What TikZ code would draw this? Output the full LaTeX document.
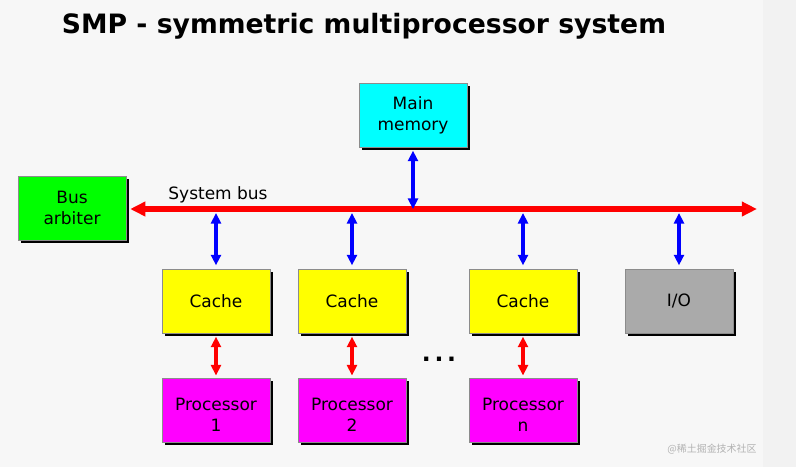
\documentclass[tikz,border=0pt]{standalone}
\usepackage{fontspec}
\setmainfont{DejaVu Sans}
\newfontfamily\cjkfont{Noto Sans CJK SC}
\usepackage{tikz}
\usetikzlibrary{arrows.meta,shadows,positioning,calc}

\definecolor{memcyan}{HTML}{00FFFF}
\definecolor{arbgreen}{HTML}{00FF00}
\definecolor{cacheyellow}{HTML}{FFFF00}
\definecolor{procmagenta}{HTML}{FF00FF}
\definecolor{iogray}{HTML}{AAAAAA}

\newcommand{\proctext}[1]{\raisebox{-9.5pt}[0pt][0pt]{\begin{tabular}{@{}c@{}}Processor\\#1\end{tabular}}}

\begin{document}
\begin{tikzpicture}[
    x=0.03cm, y=-0.03cm,
    unit/.style={draw=black!45, line width=0.3pt, align=center, minimum width=3.24cm, minimum height=1.92cm,
      font=\fontsize{14.5}{18}\selectfont, inner sep=0pt,
      drop shadow={shadow xshift=2.5pt, shadow yshift=-2.5pt, fill=black, opacity=1}},
    link/.style={{Triangle[length=9pt,width=8.5pt]}-{Triangle[length=9pt,width=8.5pt]}, line width=2.6pt, blue},
    plink/.style={{Triangle[length=9pt,width=8.5pt]}-{Triangle[length=9pt,width=8.5pt]}, line width=2.6pt, red},
    bus/.style={{Triangle[length=13pt,width=12pt]}-{Triangle[length=13pt,width=12pt]}, line width=5pt, red},
]

% background
\fill[black!3] (0,0) rectangle (796,467);
\fill[black!5] (763,0) rectangle (796,467);
\useasboundingbox (0,0) rectangle (796,467);

% Title
\node[font=\fontsize{22.75}{26}\selectfont\bfseries, anchor=base] (title) at (364,33) {SMP - symmetric multiprocessor system};

% Memory and arbiter
\node[unit, fill=memcyan] (mem) at (413,115) {Main\\memory};
\node[unit, fill=arbgreen] (arbiter) at (72,208) {Bus\\arbiter};

% Caches and I/O
\node[unit, fill=cacheyellow] (cache1) at (216,301) {Cache};
\node[unit, fill=cacheyellow] (cache2) at (352,301) {Cache};
\node[unit, fill=cacheyellow] (cachen) at (523,301) {Cache};
\node[unit, fill=iogray] (io) at (679,301) {I/O};

% Processors
\node[unit, fill=procmagenta] (proc1) at (216,410) {\proctext{1}};
\node[unit, fill=procmagenta] (proc2) at (352,410) {\proctext{2}};
\node[unit, fill=procmagenta] (procn) at (523,410) {\proctext{n}};

\node[font=\fontsize{20}{22}\selectfont\bfseries, anchor=base] (dots) at (439,361) {.\kern3.2pt.\kern3.2pt.};

% System bus
\coordinate (busend) at (757,209);
\draw[bus] ($(arbiter.east |- busend)+(4,0)$) -- (busend);
\node[font=\fontsize{14.5}{18}\selectfont, anchor=base] (buslabel) at (218,199) {System bus};

% bus connections
\draw[link] ([yshift=-3pt]mem.south) -- (mem.south |- busend);
\foreach \n in {cache1,cache2,cachen,io}
  \draw[link] ($(\n.north |- busend)+(0,4)$) -- ([yshift=3pt]\n.north);

% cache to processor
\foreach \c/\p in {cache1/proc1,cache2/proc2,cachen/procn}
  \draw[plink] ([yshift=-3pt]\c.south) -- ([yshift=2pt]\p.north);

% watermark
\node[text=black!30, font=\cjkfont\fontsize{8.5}{10}\selectfont] (mark) at (712,449) {@稀土掘金技术社区};

\end{tikzpicture}
\end{document}
